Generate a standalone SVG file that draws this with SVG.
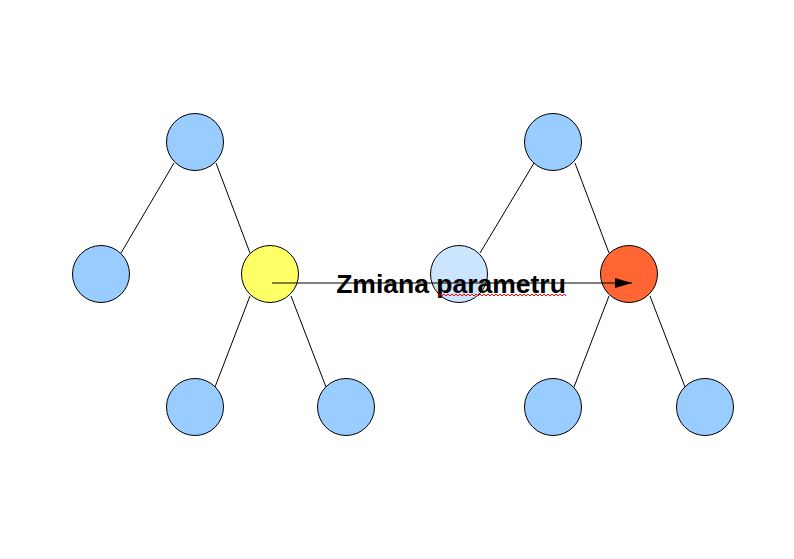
<svg xmlns="http://www.w3.org/2000/svg" width="794" height="559" viewBox="0 0 794 559">
<style>
.n{stroke:#000;stroke-width:1}
.b{fill:#99ccff}
.e{stroke:#000;stroke-width:1;fill:none}
.lbl{font-family:"Liberation Sans",Arial,sans-serif;font-weight:bold;font-size:26.5px;fill:#000}
</style>
<defs>
<marker id="ah" markerWidth="18" markerHeight="10" refX="17" refY="5" orient="auto" markerUnits="userSpaceOnUse">
<path d="M0,0 L17,5 L0,10 Z" fill="#000"/>
</marker>
</defs>
<rect width="794" height="559" fill="#fff"/>
<g id="edges">
<line class="e" x1="174" y1="163" x2="121" y2="253"/>
<line class="e" x1="216" y1="163" x2="250" y2="253"/>
<line class="e" x1="250" y1="296" x2="215" y2="387"/>
<line class="e" x1="291" y1="296" x2="326" y2="387"/>
<line class="e" x1="534" y1="163" x2="480" y2="253"/>
<line class="e" x1="575" y1="163" x2="609" y2="253"/>
<line class="e" x1="609" y1="296" x2="574" y2="387"/>
<line class="e" x1="650" y1="296" x2="685" y2="387"/>
</g>
<g id="n1"><circle class="n b" cx="195" cy="142" r="28.5"/></g>
<g id="n2"><circle class="n b" cx="101" cy="274" r="28.5"/></g>
<g id="n3"><circle class="n" fill="#ffff66" cx="270" cy="274" r="28.5"/></g>
<g id="n4"><circle class="n b" cx="195" cy="407" r="28.5"/></g>
<g id="n5"><circle class="n b" cx="346" cy="407" r="28.5"/></g>
<g id="n6"><circle class="n b" cx="553" cy="142" r="28.5"/></g>
<g id="n7"><circle class="n" fill="#cce5ff" cx="459" cy="274" r="28.5"/></g>
<g id="n8"><circle class="n" fill="#ff6633" cx="629" cy="274" r="28.5"/></g>
<g id="n9"><circle class="n b" cx="553" cy="407" r="28.5"/></g>
<g id="n10"><circle class="n b" cx="705" cy="407" r="28.5"/></g>
<g id="arrow">
<line x1="272" y1="283" x2="632" y2="283" stroke="#000" stroke-width="1" marker-end="url(#ah)"/>
</g>
<g id="label">
<text class="lbl" x="451" y="293" text-anchor="middle">Zmiana parametru</text>
<polyline fill="none" stroke="#ff0000" stroke-width="1" points="438,296 440,294 442,296 444,294 446,296 448,294 450,296 452,294 454,296 456,294 458,296 460,294 462,296 464,294 466,296 468,294 470,296 472,294 474,296 476,294 478,296 480,294 482,296 484,294 486,296 488,294 490,296 492,294 494,296 496,294 498,296 500,294 502,296 504,294 506,296 508,294 510,296 512,294 514,296 516,294 518,296 520,294 522,296 524,294 526,296 528,294 530,296 532,294 534,296 536,294 538,296 540,294 542,296 544,294 546,296 548,294 550,296 552,294 554,296 556,294 558,296 560,294 562,296 564,294 566,296"/>
</g>
</svg>
